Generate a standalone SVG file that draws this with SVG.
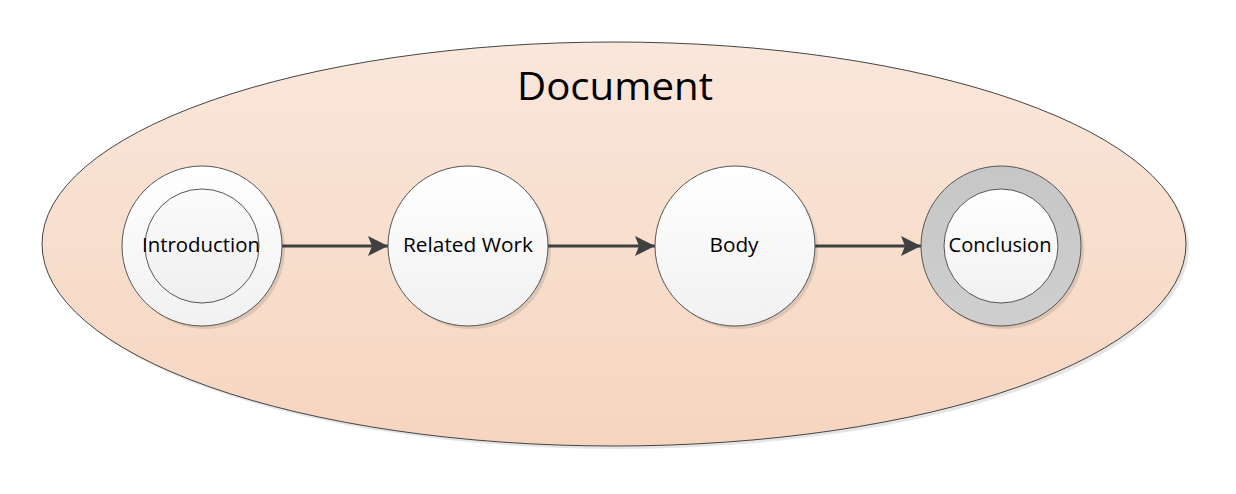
<svg xmlns="http://www.w3.org/2000/svg" width="1236" height="494" viewBox="0 0 1236 494">
<defs>
<linearGradient id="gDoc" x1="0" y1="0" x2="0" y2="1">
<stop offset="0" stop-color="#fae7db"/>
<stop offset="1" stop-color="#f6d5bf"/>
</linearGradient>
<linearGradient id="gNode" x1="0" y1="0" x2="0" y2="1">
<stop offset="0" stop-color="#ffffff"/>
<stop offset="1" stop-color="#f1f1f1"/>
</linearGradient>
<linearGradient id="gInner" x1="0" y1="0" x2="0" y2="1">
<stop offset="0" stop-color="#fbfbfb"/>
<stop offset="1" stop-color="#efefef"/>
</linearGradient>
<linearGradient id="gRing" x1="0" y1="0" x2="0" y2="1">
<stop offset="0" stop-color="#c6c6c6"/>
<stop offset="1" stop-color="#cfcfcf"/>
</linearGradient>
<marker id="arr" viewBox="0 0 20 20" refX="20" refY="10" markerWidth="20" markerHeight="20" markerUnits="userSpaceOnUse" orient="auto">
<path d="M0,0 L20,10 L0,20 L4,10 Z" fill="#404040"/>
</marker>
</defs>
<style>
.shadow{fill:#000;opacity:0.1}
.node{fill:url(#gNode);stroke:#555;stroke-width:1}
.inner{fill:url(#gInner);stroke:#555;stroke-width:1}
.lbl{font-family:"Open Sans","Liberation Sans",sans-serif;font-size:20px;fill:#000;text-anchor:middle}
.edge{stroke:#404040;stroke-width:3;fill:none}
</style>
<rect width="1236" height="494" fill="#ffffff"/>
<g id="document">
<ellipse class="shadow" cx="617" cy="247" rx="572" ry="202"/>
<ellipse cx="614" cy="244" rx="572" ry="202" fill="url(#gDoc)" stroke="#444" stroke-width="1"/>
<text x="615" y="100" font-family="Open Sans, Liberation Sans, sans-serif" font-size="39" text-anchor="middle" textLength="196" lengthAdjust="spacingAndGlyphs" fill="#000">Document</text>
</g>
<g id="connectors">
<line class="edge" x1="282" y1="246" x2="388" y2="246" marker-end="url(#arr)"/>
<line class="edge" x1="548" y1="246" x2="655" y2="246" marker-end="url(#arr)"/>
<line class="edge" x1="815" y1="246" x2="921" y2="246" marker-end="url(#arr)"/>
</g>
<g id="introduction">
<circle class="shadow" cx="205" cy="249" r="80"/>
<circle class="node" cx="202" cy="246" r="80"/>
<circle class="inner" cx="202" cy="246" r="57"/>
<text class="lbl" x="201" y="252" textLength="118" lengthAdjust="spacingAndGlyphs">Introduction</text>
</g>
<g id="related-work">
<circle class="shadow" cx="471" cy="249" r="80"/>
<circle class="node" cx="468" cy="246" r="80"/>
<text class="lbl" x="468" y="252" textLength="130" lengthAdjust="spacingAndGlyphs">Related Work</text>
</g>
<g id="body">
<circle class="shadow" cx="738" cy="249" r="80"/>
<circle class="node" cx="735" cy="246" r="80"/>
<text class="lbl" x="734" y="252" textLength="49" lengthAdjust="spacingAndGlyphs">Body</text>
</g>
<g id="conclusion">
<circle class="shadow" cx="1004" cy="249" r="80"/>
<circle cx="1001" cy="246" r="80" fill="url(#gRing)" stroke="#555" stroke-width="1"/>
<circle class="node" cx="1001" cy="246" r="57"/>
<text class="lbl" x="1000" y="252" textLength="103" lengthAdjust="spacingAndGlyphs">Conclusion</text>
</g>
</svg>
